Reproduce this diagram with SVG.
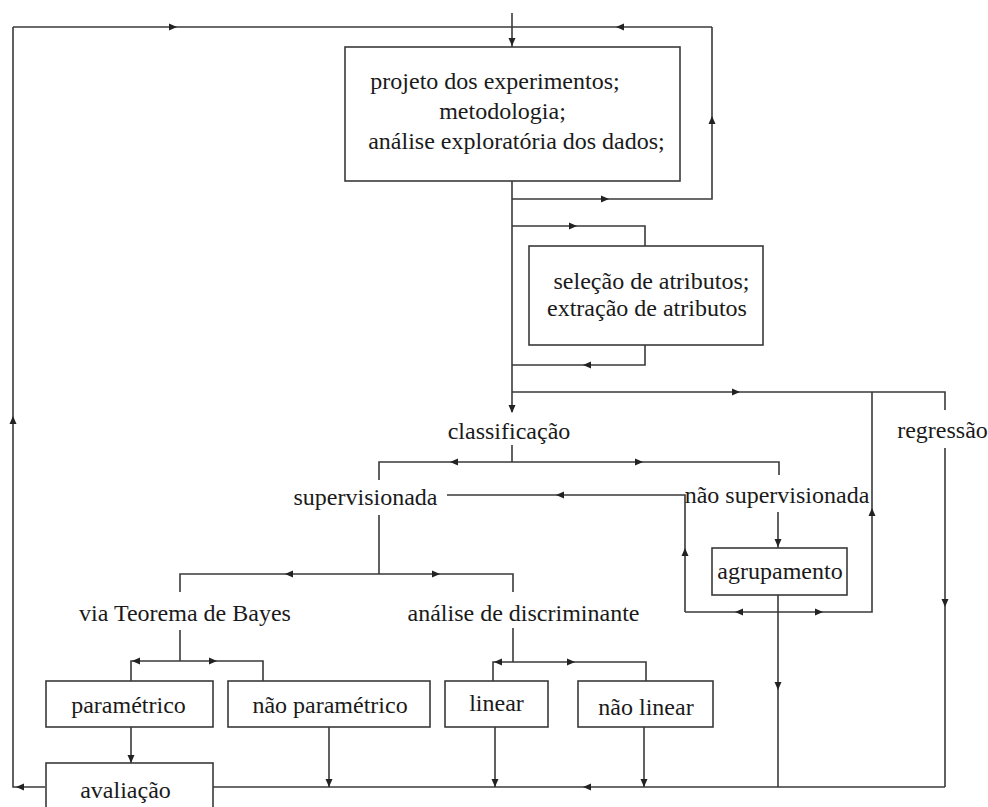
<svg xmlns="http://www.w3.org/2000/svg" xmlns:xlink="http://www.w3.org/1999/xlink" width="988" height="807" viewBox="0 0 988 807">
<style>
.box{fill:#fff;stroke:#3a3a3a;stroke-width:1.6}
.ln{fill:none;stroke:#3a3a3a;stroke-width:1.6}
.t{font-family:"Liberation Serif","Times New Roman",serif;font-size:24px;fill:#1a1a1a;text-anchor:middle}
.ah{fill:#222}
</style>
<defs>
<path id="ar" class="ah" d="M0,0 L-8,-3.5 L-8,3.5 Z"/>
</defs>
<rect width="988" height="807" fill="#fff"/>
<g id="connectors">
<path class="ln" d="M512,13 V47"/>
<path class="ln" d="M13,27 H712"/>
<path class="ln" d="M512,199 H712 V27"/>
<path class="ln" d="M512,181 V412"/>
<path class="ln" d="M512,226 H645 V246"/>
<path class="ln" d="M645,345 V365 H512"/>
<path class="ln" d="M512,392 H945 V410"/>
<path class="ln" d="M945,448 V787"/>
<path class="ln" d="M512,445 V462"/>
<path class="ln" d="M379,480 V462 H779 V475"/>
<path class="ln" d="M379,515 V574"/>
<path class="ln" d="M180,592 V574 H513 V592"/>
<path class="ln" d="M778,512 V548"/>
<path class="ln" d="M685,612 V495 H447"/>
<path class="ln" d="M685,612 H872 V392"/>
<path class="ln" d="M778,595 V787"/>
<path class="ln" d="M180,630 V661"/>
<path class="ln" d="M131,681 V661 H263 V681"/>
<path class="ln" d="M513,628 V662"/>
<path class="ln" d="M493,681 V662 H646 V681"/>
<path class="ln" d="M131,727 V763"/>
<path class="ln" d="M329,727 V787"/>
<path class="ln" d="M495,727 V787"/>
<path class="ln" d="M644,727 V787"/>
<path class="ln" d="M945,787 H213"/>
<path class="ln" d="M45,787 H13 V27"/>
<!-- arrowheads -->
<use xlink:href="#ar" transform="translate(512,46) rotate(90)"/>
<use xlink:href="#ar" transform="translate(177,27)"/>
<use xlink:href="#ar" transform="translate(616,27) rotate(180)"/>
<use xlink:href="#ar" transform="translate(712,116) rotate(-90)"/>
<use xlink:href="#ar" transform="translate(609,199)"/>
<use xlink:href="#ar" transform="translate(512,413) rotate(90)"/>
<use xlink:href="#ar" transform="translate(577,226)"/>
<use xlink:href="#ar" transform="translate(583,365) rotate(180)"/>
<use xlink:href="#ar" transform="translate(740,392)"/>
<use xlink:href="#ar" transform="translate(945,607) rotate(90)"/>
<use xlink:href="#ar" transform="translate(450,462) rotate(180)"/>
<use xlink:href="#ar" transform="translate(643,462)"/>
<use xlink:href="#ar" transform="translate(285,574) rotate(180)"/>
<use xlink:href="#ar" transform="translate(440,574)"/>
<use xlink:href="#ar" transform="translate(556,495) rotate(180)"/>
<use xlink:href="#ar" transform="translate(685,548) rotate(-90)"/>
<use xlink:href="#ar" transform="translate(778,547) rotate(90)"/>
<use xlink:href="#ar" transform="translate(872,508) rotate(-90)"/>
<use xlink:href="#ar" transform="translate(735,612) rotate(180)"/>
<use xlink:href="#ar" transform="translate(823,612)"/>
<use xlink:href="#ar" transform="translate(778,690) rotate(90)"/>
<use xlink:href="#ar" transform="translate(132,661) rotate(180)"/>
<use xlink:href="#ar" transform="translate(217,661)"/>
<use xlink:href="#ar" transform="translate(494,662) rotate(180)"/>
<use xlink:href="#ar" transform="translate(575,662)"/>
<use xlink:href="#ar" transform="translate(131,763) rotate(90)"/>
<use xlink:href="#ar" transform="translate(329,787) rotate(90)"/>
<use xlink:href="#ar" transform="translate(495,787) rotate(90)"/>
<use xlink:href="#ar" transform="translate(644,787) rotate(90)"/>
<use xlink:href="#ar" transform="translate(583,787) rotate(180)"/>
<use xlink:href="#ar" transform="translate(16,787) rotate(180)"/>
<use xlink:href="#ar" transform="translate(13,416) rotate(-90)"/>
</g>
<g id="n-projeto">
<rect class="box" x="345" y="47" width="335" height="134"/>
<text class="t" x="495" y="89">projeto dos experimentos;</text>
<text class="t" x="502.5" y="119">metodologia;</text>
<text class="t" x="516.5" y="149">análise exploratória dos dados;</text>
</g>
<g id="n-selecao">
<rect class="box" x="529" y="246" width="234" height="99"/>
<text class="t" x="651.5" y="289">seleção de atributos;</text>
<text class="t" x="647" y="316">extração de atributos</text>
</g>
<g id="n-classificacao"><text class="t" x="509" y="439">classificação</text></g>
<g id="n-regressao"><text class="t" x="942.5" y="438">regressão</text></g>
<g id="n-supervisionada"><text class="t" x="365.5" y="505">supervisionada</text></g>
<g id="n-nao-supervisionada"><text class="t" x="777" y="503">não supervisionada</text></g>
<g id="n-agrupamento">
<rect class="box" x="712" y="548" width="135" height="47"/>
<text class="t" x="780" y="579">agrupamento</text>
</g>
<g id="n-bayes"><text class="t" x="185" y="621">via Teorema de Bayes</text></g>
<g id="n-discriminante"><text class="t" x="523.5" y="621">análise de discriminante</text></g>
<g id="n-parametrico">
<rect class="box" x="46" y="681" width="167" height="46"/>
<text class="t" x="128.5" y="713">paramétrico</text>
</g>
<g id="n-nao-parametrico">
<rect class="box" x="228" y="681" width="202" height="46"/>
<text class="t" x="330" y="713">não paramétrico</text>
</g>
<g id="n-linear">
<rect class="box" x="445" y="681" width="103" height="46"/>
<text class="t" x="496.5" y="711">linear</text>
</g>
<g id="n-nao-linear">
<rect class="box" x="578" y="681" width="135" height="46"/>
<text class="t" x="646" y="715">não linear</text>
</g>
<g id="n-avaliacao">
<rect class="box" x="46" y="763" width="167" height="60"/>
<text class="t" x="125.5" y="798">avaliação</text>
</g>
</svg>
